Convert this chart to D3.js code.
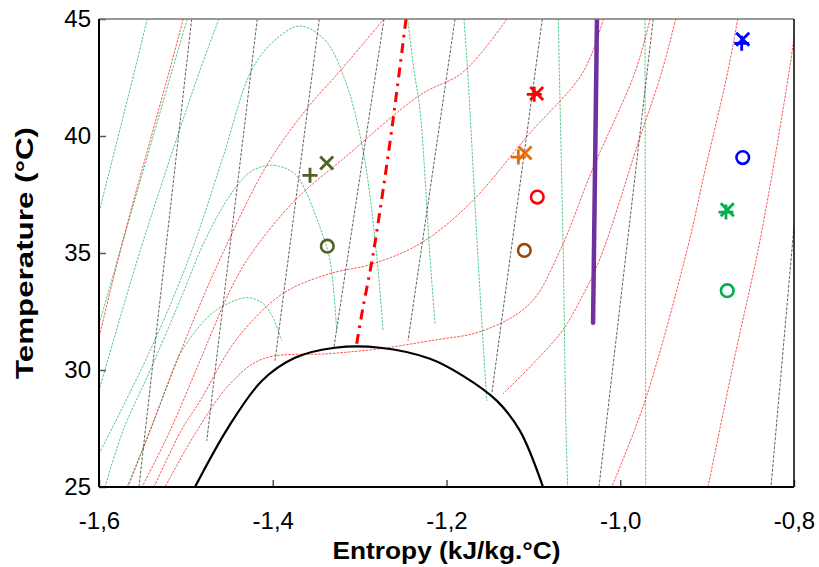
<!DOCTYPE html>
<html><head><meta charset="utf-8">
<script src="https://cdn.jsdelivr.net/npm/d3@7"></script>
<style>body{margin:0;background:#fff}text{font-family:"Liberation Sans",Arial,sans-serif;fill:#000}</style>
</head><body><svg id="chart" width="819" height="567"></svg>
<script>
// ---------- data (entropy kJ/kg.°C, temperature °C) ----------
const xTicks = [-1.6, -1.4, -1.2, -1.0, -0.8];
const yTicks = [25, 30, 35, 40, 45];
const xTitle = "Entropy (kJ/kg.°C)";
const yTitle = "Temperature (°C)";

const saturationDome = [[-1.4895,25.0],[-1.4515,27.53],[-1.4124,29.54],[-1.3744,30.52],[-1.3283,30.95],[-1.2765,30.95],[-1.219,30.48],[-1.181,29.75],[-1.1419,28.68],[-1.1154,27.40],[-1.0889,25.0]];

const isochores = [
  [[-1.4933,45],[-1.5540,25]],
  [[-1.4178,45],[-1.4760,26.97]],
  [[-1.3464,45],[-1.3974,30.40]],
  [[-1.2719,45],[-1.3295,30.99]],
  [[-1.1902,45],[-1.2443,31.25]],
  [[-1.0897,45],[-1.1479,28.98]],
  [[-0.9620,45],[-1.0245,25]],
  [[-0.80,36.13],[-0.8265,25]]
];

const isobars = [
  [[-1.5030,45],[-1.5194,42.73],[-1.5724,35.54],[-1.6,31.38]],
  [[-1.2719,45],[-1.3237,42.73],[-1.3594,41.23],[-1.4055,38.83],[-1.4561,35.11],[-1.5010,31.25],[-1.5413,27.40],[-1.5666,25.0]],
  [[-1.1304,45],[-1.1810,42.73],[-1.2305,41.75],[-1.3168,39.09],[-1.3744,37.25],[-1.4262,34.89],[-1.4492,33.39],[-1.4837,30.40],[-1.5183,27.40],[-1.5505,25.0]],
  [[-1.0195,45],[-1.0428,42.73],[-1.1062,40.03],[-1.1729,37.12],[-1.2305,35.40],[-1.2880,34.50],[-1.3341,34.12],[-1.3882,33.27],[-1.4411,31.34],[-1.4837,28.68],[-1.5056,27.40],[-1.5367,25.0]],
  [[-0.9657,45],[-0.9830,42.73],[-1.0325,38.53],[-1.0693,35.11],[-1.1039,32.84],[-1.1580,31.68],[-1.2190,31.25],[-1.2765,30.91],[-1.3341,30.70],[-1.4112,30.48],[-1.4492,29.41],[-1.4895,27.27],[-1.5240,25.0]],
  [[-0.9362,45],[-0.9523,42.73],[-0.9784,39.82],[-1.0233,34.76],[-1.0463,32.97],[-1.0693,31.55],[-1.1350,28.98]],
  [[-0.8648,45],[-0.8763,42.73],[-0.9024,38.53],[-0.9232,35.11],[-0.9715,28.68],[-1.0098,25.0]],
  [[-0.7988,44.53],[-0.8057,42.73],[-0.8391,35.54],[-0.8667,30.82],[-0.8990,25.0]]
];

const isenthalps = [
  [[-1.5444,45],[-1.5594,42.73],[-1.6,36.73]],
  [[-1.4984,45],[-1.5163,42.73],[-1.5755,35.11],[-1.6,31.94]],
  [[-1.4619,45],[-1.4845,42.73],[-1.5525,35.11],[-1.6,29.11]],
  [[-1.6,26.41],[-1.5413,30.82],[-1.4953,34.89],[-1.4584,38.96],[-1.4242,42.82],[-1.3974,44.10],[-1.3686,44.70],[-1.3399,44.10],[-1.3168,42.39],[-1.2961,39.39],[-1.2800,34.76],[-1.2731,31.68]],
  [[-1.5931,25.0],[-1.5724,27.40],[-1.5413,29.97],[-1.5068,32.97],[-1.4780,35.54],[-1.4492,37.46],[-1.4262,38.45],[-1.4032,38.75],[-1.3801,38.53],[-1.3686,38.10],[-1.3456,36.09],[-1.3341,34.68],[-1.3264,31.68]],
  [[-1.5678,25.0],[-1.5413,27.40],[-1.5240,29.11],[-1.5048,30.82],[-1.4703,32.41],[-1.4492,32.88],[-1.4300,33.09],[-1.4124,32.88],[-1.4009,32.32],[-1.3897,31.25]],
  [[-1.2447,45],[-1.2371,42.73],[-1.2305,41.10],[-1.2190,34.81],[-1.2132,31.98]],
  [[-1.1799,45],[-1.1756,42.73],[-1.1637,34.76],[-1.1537,28.68]],
  [[-1.0713,45],[-1.0701,42.73],[-1.0659,35.54],[-1.0624,27.40],[-1.0605,25.0]],
  [[-0.9715,45],[-0.9707,25.0]]
];

const purpleLine = [[-1.0268,45],[-1.0313,32.02]];
const dashDotLine = [[-1.2466,45],[-1.2627,40.37],[-1.2765,36.82],[-1.2857,34.68],[-1.2961,32.67],[-1.3042,30.95]];

// measured points: [entropy, temperature, shape, group]
const markerPoints = [
  [-1.3571,38.32,"plus","olive"],[-1.3379,38.85,"cross","olive"],[-1.3372,35.29,"circle","olive"],
  [-1.0962,41.82,"cross","red"],[-1.0990,41.78,"plus","red"],[-1.0955,37.39,"circle","red"],
  [-1.1173,39.10,"plus","orange"],[-1.1096,39.27,"cross","orange"],[-1.1104,35.11,"circle","brown"],
  [-0.8590,44.13,"cross","blue"],[-0.8602,43.96,"plus","blue"],[-0.8590,39.08,"circle","blue"],
  [-0.8768,36.85,"cross","green"],[-0.8783,36.75,"plus","green"],[-0.8768,33.39,"circle","green"]
];

// ---------- drawing ----------
const m = {left: 99, top: 19, right: 794, bottom: 487};
const x = d3.scaleLinear().domain([-1.6, -0.8]).range([m.left, m.right]);
const y = d3.scaleLinear().domain([25, 45]).range([m.bottom, m.top]);
const svg = d3.select("#chart");

svg.append("defs").append("clipPath").attr("id", "clip")
  .append("rect").attr("x", m.left).attr("y", m.top)
  .attr("width", m.right - m.left).attr("height", m.bottom - m.top);

const g = svg.append("g").attr("clip-path", "url(#clip)");
const smooth = d3.line().x(d => x(d[0])).y(d => y(d[1])).curve(d3.curveCatmullRom.alpha(0.5));
const straight = d3.line().x(d => x(d[0])).y(d => y(d[1]));

g.selectAll(".isen").data(isenthalps).join("path")
  .attr("d", smooth).attr("fill", "none").attr("stroke", "#00b050")
  .attr("stroke-width", 0.9).attr("stroke-opacity", 0.75).attr("stroke-dasharray", "2.5,1.2");

g.selectAll(".isoc").data(isochores).join("path")
  .attr("d", straight).attr("fill", "none").attr("stroke", "#303030")
  .attr("stroke-width", 0.9).attr("stroke-opacity", 0.85).attr("stroke-dasharray", "3,1.5");

g.selectAll(".isob").data(isobars).join("path")
  .attr("d", smooth).attr("fill", "none").attr("stroke", "#ff0000")
  .attr("stroke-width", 0.9).attr("stroke-opacity", 0.75).attr("stroke-dasharray", "2.5,1.2");

g.append("path").datum(saturationDome).attr("d", smooth).attr("fill", "none")
  .attr("stroke", "#000").attr("stroke-width", 2.2);

g.append("path").datum(dashDotLine).attr("d", smooth).attr("fill", "none")
  .attr("stroke", "#ff0000").attr("stroke-width", 3).attr("stroke-dasharray", "10,6,2.5,6");

g.append("path").datum(purpleLine).attr("d", straight).attr("fill", "none")
  .attr("stroke", "#7030a0").attr("stroke-width", 4.5).attr("stroke-linecap", "round");

// axes
const axisG = svg.append("g");
const yAxis = d3.axisLeft(y).tickValues(yTicks).tickSizeInner(-7).tickSizeOuter(0).tickPadding(8)
  .tickFormat(d => String(d));
axisG.append("g").attr("transform", `translate(${m.left},0)`).call(yAxis)
  .call(s => s.select(".domain").remove())
  .call(s => s.selectAll("text").attr("font-size", 24).attr("font-family", "Liberation Sans, Arial, sans-serif"))
  .call(s => s.selectAll("line").attr("stroke", "#555").attr("stroke-width", 1.5));
const xAxis = d3.axisBottom(x).tickValues(xTicks).tickSizeInner(-7).tickSizeOuter(0).tickPadding(42)
  .tickFormat(d => d.toFixed(1).replace(".", ","));
axisG.append("g").attr("transform", `translate(0,${m.bottom})`).call(xAxis)
  .call(s => s.select(".domain").remove())
  .call(s => s.selectAll("text").attr("font-size", 24).attr("font-family", "Liberation Sans, Arial, sans-serif").attr("dy", "0"))
  .call(s => s.selectAll("line").attr("stroke", "#555").attr("stroke-width", 1.5));

// frame
axisG.append("line").attr("x1", m.left).attr("x2", m.right).attr("y1", m.top).attr("y2", m.top).attr("stroke", "#777").attr("stroke-width", 1.5);
axisG.append("line").attr("x1", m.right).attr("x2", m.right).attr("y1", m.top).attr("y2", m.bottom).attr("stroke", "#000").attr("stroke-width", 1.5);
axisG.append("line").attr("x1", m.left).attr("x2", m.left).attr("y1", m.top).attr("y2", m.bottom).attr("stroke", "#000").attr("stroke-width", 2);
axisG.append("line").attr("x1", m.left).attr("x2", m.right).attr("y1", m.bottom).attr("y2", m.bottom).attr("stroke", "#000").attr("stroke-width", 2);

// markers
const colors = {olive: "#4f6228", red: "#ff0000", orange: "#e46c0a", brown: "#984807", blue: "#0000ff", green: "#00b050"};
const mk = svg.append("g");
markerPoints.forEach(p => {
  const cx = x(p[0]), cy = y(p[1]), c = colors[p[3]];
  if (p[2] === "circle") {
    mk.append("circle").attr("cx", cx).attr("cy", cy).attr("r", 6.3).attr("fill", "none").attr("stroke", c).attr("stroke-width", 2.6);
  } else if (p[2] === "plus") {
    mk.append("path").attr("d", `M${cx-7.5},${cy}H${cx+7.5}M${cx},${cy-7.5}V${cy+7.5}`).attr("stroke", c).attr("stroke-width", 2.8);
  } else {
    mk.append("path").attr("d", `M${cx-6.5},${cy-6.5}L${cx+6.5},${cy+6.5}M${cx-6.5},${cy+6.5}L${cx+6.5},${cy-6.5}`).attr("stroke", c).attr("stroke-width", 2.8);
  }
});

// titles
svg.append("text").attr("x", (m.left + m.right) / 2).attr("y", 559).attr("text-anchor", "middle")
  .attr("font-size", 24).attr("font-weight", "bold")
  .attr("textLength", 228).attr("lengthAdjust", "spacingAndGlyphs").text(xTitle);
svg.append("text").attr("transform", `translate(33,${(m.top + m.bottom) / 2}) rotate(-90)`)
  .attr("text-anchor", "middle").attr("font-size", 24).attr("font-weight", "bold")
  .attr("textLength", 252).attr("lengthAdjust", "spacingAndGlyphs").text(yTitle);
</script></body></html>
